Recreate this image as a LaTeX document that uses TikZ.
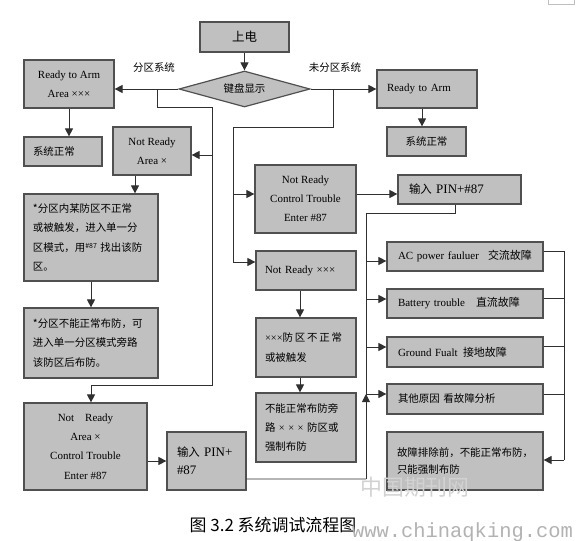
\documentclass[tikz,border=0pt]{standalone}
\usepackage{fontspec}
\setmainfont{Liberation Serif}
\newfontfamily\cjk{Noto Sans CJK SC}
\newfontfamily\wmono{Liberation Mono}
\newfontfamily\latn{Liberation Serif}
\usetikzlibrary{arrows.meta,shapes.geometric}
\definecolor{boxfill}{HTML}{C0C0C0}
\definecolor{boxline}{HTML}{505050}
\definecolor{conncol}{HTML}{303030}
\begin{document}
\begin{tikzpicture}[x=1bp,y=-1bp,
  box/.style={draw=boxline, fill=boxfill, line width=1.2bp, inner sep=0pt, font=\fontsize{11}{19.3}\selectfont},
  bx/.style 2 args={box, minimum width=#1bp, minimum height=#2bp},
  lcjk/.style={align=left, text width=#1bp, font=\fontsize{10.5}{19.3}\cjk},
  conn/.style={draw=conncol, line width=0.9bp},
  arr/.style={conn, -{Triangle[length=8bp,width=8bp]}},
  lab/.style={font=\fontsize{10.5}{12}\cjk, inner sep=0pt}]
\useasboundingbox (0,0) rectangle (581,541);
\fill[white] (0,0) rectangle (581,541);
\draw[gray!50, line width=0.8bp] (548,0) -- (548,4) -- (574,4) -- (574,0);

% boxes
\node[bx={89}{30}, font=\fontsize{12.5}{14}\cjk] (pwr) at (244.5,37) {上电};
\node[diamond, draw=boxline, fill=boxfill, line width=1.2bp, inner sep=0pt, aspect=3.6,
      minimum width=131bp, minimum height=36bp, font=\fontsize{10.5}{12}\cjk] (dec) at (244.5,89) {键盘显示};
\node[bx={90}{48}, align=center] (ra1) at (69,84) {Ready to Arm\\Area ×××};
\node[bx={78}{29}, lcjk={60}] (ok1) at (63,151.5) {系统正常};
\node[bx={78}{48}, align=center] (nra) at (152,151) {Not Ready\\Area ×};
\node[bx={134}{87}, lcjk={116}] (zb1) at (91,237.5) {*分区内某防区不正常\\或被触发，进入单一分\\区模式，用{\fontsize{7}{7}\selectfont\raisebox{3bp}{\#87}} 找出该防\\区。};
\node[bx={134}{70}, lcjk={116}] (zb2) at (91,343) {*分区不能正常布防，可\\进入单一分区模式旁路\\该防区后布防。};
\node[bx={123}{87}, align=center] (nrc2) at (85.5,446.5) {Not\quad Ready\\Area ×\\Control Trouble\\Enter \#87};
\node[bx={79}{58}, align=left, text width=59bp, font=\fontsize{13}{18}\selectfont] (pin2) at (206.5,461) {{\fontsize{11.5}{18}\cjk 输入} PIN+\\\#87};

\node[bx={100}{38}, align=left, text width=80bp] (ra2) at (427,89) {Ready to Arm};
\node[bx={79}{29}, font=\fontsize{10.5}{12}\cjk] (ok2) at (426.5,141.5) {系统正常};
\node[bx={101}{68}, align=center] (nrct) at (305.5,199) {Not Ready\\Control Trouble\\Enter \#87};
\node[bx={123}{29}, align=left, text width=101bp, font=\fontsize{13}{18}\selectfont] (pin1) at (459.5,189.5) {{\fontsize{11.5}{18}\cjk 输入} PIN+\#87};
\node[bx={100}{39}, align=left, text width=82bp] (nr3) at (306,270.5) {Not Ready ×××};
\node[bx={100}{59}, lcjk={82}] (zf) at (306,347.5) {{\latn ×××}防\,区\,不\,正\,常\\或被触发};
\node[bx={100}{69}, lcjk={82}] (bp) at (306,427.5) {不能正常布防旁\\路{\latn\ × × × }防区或\\强制布防};

\node[bx={156}{29}, align=left, text width=134bp] (ac) at (465,256.5) {\makebox[90bp][l]{AC power fauluer}{\cjk 交流故障}};
\node[bx={156}{29}, align=left, text width=134bp] (bat) at (465,303.5) {\makebox[78bp][l]{Battery trouble}{\cjk 直流故障}};
\node[bx={156}{30}, align=left, text width=134bp] (gnd) at (465,352) {\makebox[65bp][l]{Ground Fualt}{\cjk 接地故障}};
\node[bx={156}{30}, lcjk={134}] (oth) at (465,399) {其他原因 看故障分析};
\node[bx={156}{58}, align=left, text width=136bp, font=\fontsize{10.5}{18}\cjk] (fin) at (465,461) {故障排除前，不能正常布防，\\只能强制布防};

% labels
\node[lab] (lab1) at (154,68) {分区系统};
\node[lab] (lab2) at (335,68) {未分区系统};

% coordinates
\coordinate (j1) at (157,89);
\coordinate (j1b) at (157,107);
\coordinate (v1t) at (212,107);
\coordinate (v1m) at (212,155);
\coordinate (v1b) at (212,385);
\coordinate (h1) at (91,385);
\coordinate (j2) at (333,89);
\coordinate (j2b) at (333,127);
\coordinate (v2t) at (233,127);
\coordinate (v2m) at (233,194);
\coordinate (v2b) at (233,262);
\coordinate (b0) at (366,213);
\coordinate (ba) at (366,261);
\coordinate (bb) at (366,299);
\coordinate (bg) at (366,347);
\coordinate (bo) at (366,394);
\coordinate (bz) at (366,479);
\coordinate (r1) at (564,251);
\coordinate (r2) at (564,298);
\coordinate (r3) at (564,346);
\coordinate (r4) at (564,394);
\coordinate (r5) at (564,460);

% connectors
\draw[arr] (pwr) -- (dec);
\draw[arr] (dec.west) -- (dec.west -| ra1.east);
\draw[arr] (dec.east) -- (ra2.west);
\draw[conn] (j1) -- (j1b) -- (v1t) -- (v1b) -- (h1);
\draw[arr] (h1) -- (h1 |- nrc2.north);
\draw[arr] (v1m) -- (v1m -| nra.east);
\draw[arr] (ra1.south) -- (ra1.south |- ok1.north);
\draw[arr] ([xshift=-17bp]nra.south) -- ([xshift=-17bp]nra.south |- zb1.north);
\draw[arr] (zb1) -- (zb2);
\draw[arr] (nrc2.east |- pin2.west) -- (pin2.west);

\draw[conn] (j2) -- (j2b) -- (v2t) -- (v2b);
\draw[arr] (v2m) -- (v2m -| nrct.west);
\draw[arr] (v2b) -- (v2b -| nr3.west);
\draw[arr] ([xshift=-5bp]ra2.south) -- ([xshift=-5bp]ra2.south |- ok2.north);
\draw[arr] (v2m -| nrct.east) -- (v2m -| pin1.west);
\draw[arr] ([xshift=-6bp]nr3.south) -- ([xshift=-6bp]nr3.south |- zf.north);
\draw[arr] ([xshift=-6bp]zf.south) -- ([xshift=-6bp]zf.south |- bp.north);

\draw[conn] ([xshift=-4.5bp]pin1.south) |- (b0) -- (bo);
\draw[arr] (ba) -- (ba -| ac.west);
\draw[arr] (bb) -- (bb -| bat.west);
\draw[arr] (bg) -- (bg -| gnd.west);
\draw[arr] (bo) -- (bo -| oth.west);
\draw[conn] ([yshift=-18bp]pin2.east) -- (bz);
\draw[arr] (bz) -- (bo);

\draw[conn] (r1 -| ac.east) -- (r1) -- (r5);
\draw[conn] (r2 -| bat.east) -- (r2);
\draw[conn] (r3 -| gnd.east) -- (r3);
\draw[conn] (r4 -| oth.east) -- (r4);
\draw[arr] (r5) -- (r5 -| fin.east);

% caption and marks
\node[font=\fontsize{17}{20}\cjk, inner sep=0pt] (cap) at (273,525) {图 3.2 系统调试流程图};
\node[font=\fontsize{22}{24}\cjk, text=gray!35, inner sep=0pt] (wm1) at (415,487) {中国期刊网};
\node[font=\fontsize{20.5}{22}\wmono, text=gray!60, anchor=west, inner sep=0pt] (wm2) at (352,532) {www.chinaqking.com};
\end{tikzpicture}
\end{document}
